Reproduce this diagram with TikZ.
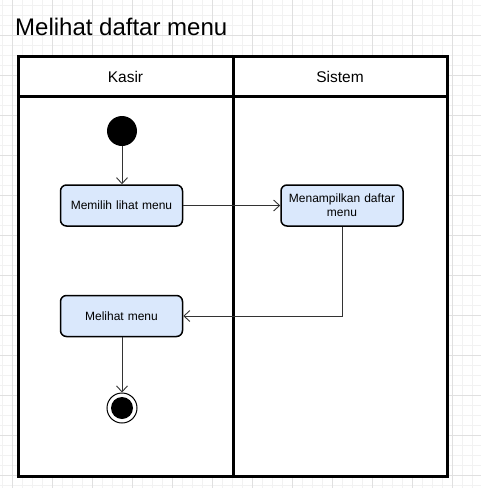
\documentclass[tikz,border=0pt]{standalone}
\usepackage{fontspec}
\setmainfont{Liberation Sans}
\usetikzlibrary{arrows.meta}
\definecolor{gridminor}{HTML}{F2F2F2}
\definecolor{gridmajor}{HTML}{E0E0E0}
\definecolor{actfill}{HTML}{DAE8FC}
\definecolor{flowcol}{HTML}{333333}
\begin{document}
\begin{tikzpicture}[x=1pt,y=-1pt,
  lane/.style={draw=black,line width=3pt},
  act/.style={draw=black,line width=1.5pt,rounded corners=6pt,fill=actfill,
    minimum width=122pt,minimum height=41pt,align=center,inner sep=2pt,
    text width=116pt,font=\fontsize{12}{14}\selectfont},
  flow/.style={draw=flowcol,line width=0.9pt,-{Straight Barb[length=6pt,width=11pt]}},
  hdr/.style={font=\fontsize{15.5}{18}\selectfont,anchor=base,inner sep=0pt}]
\useasboundingbox (0,0) rectangle (481,488);
\fill[white] (0,0) rectangle (481,488);
% grid
\foreach \x in {2,12,...,481} \draw[gridminor,line width=1pt] (\x,0) -- (\x,488);
\foreach \y in {5,15,...,488} \draw[gridminor,line width=1pt] (0,\y) -- (481,\y);
\foreach \x in {12,52,...,481} \draw[gridmajor,line width=1pt] (\x,0) -- (\x,488);
\foreach \y in {35,75,...,488} \draw[gridmajor,line width=1pt] (0,\y) -- (481,\y);
% title
\node[anchor=base west,inner sep=0pt,font=\fontsize{24}{28}\selectfont] (title) at (15,35) {Melihat daftar menu};
% pool
\draw[lane,fill=white] (18,56) rectangle (447,476);
\draw[lane] (18,96) -- (447,96);
\draw[lane] (233,56) -- (233,476);
\node[hdr] (kasir) at (125.5,82) {Kasir};
\node[hdr] (sistem) at (340,82) {Sistem};
% nodes
\node[circle,fill=black,minimum size=30pt,inner sep=0pt] (start) at (122,131) {};
\node[act] (a1) at (121.5,205.5) {Memilih lihat menu};
\node[act] (a2) at (342,205.5) {Menampilkan daftar\\menu};
\node[act] (a3) at (121.5,316) {Melihat menu};
\node[circle,draw=black,line width=1pt,fill=white,minimum size=30pt,inner sep=0pt] (end) at (122,408) {};
\node[circle,fill=black,minimum size=22pt,inner sep=0pt] (endin) at (end.center) {};
% flows
\draw[flow] (start.south) -- (start.south |- a1.north);
\draw[flow] (a1.east) -- (a2.west);
\draw[flow] (a2.south) |- (a3.east);
\draw[flow] (a3.south -| end.north) -- (end.north);
\end{tikzpicture}
\end{document}
